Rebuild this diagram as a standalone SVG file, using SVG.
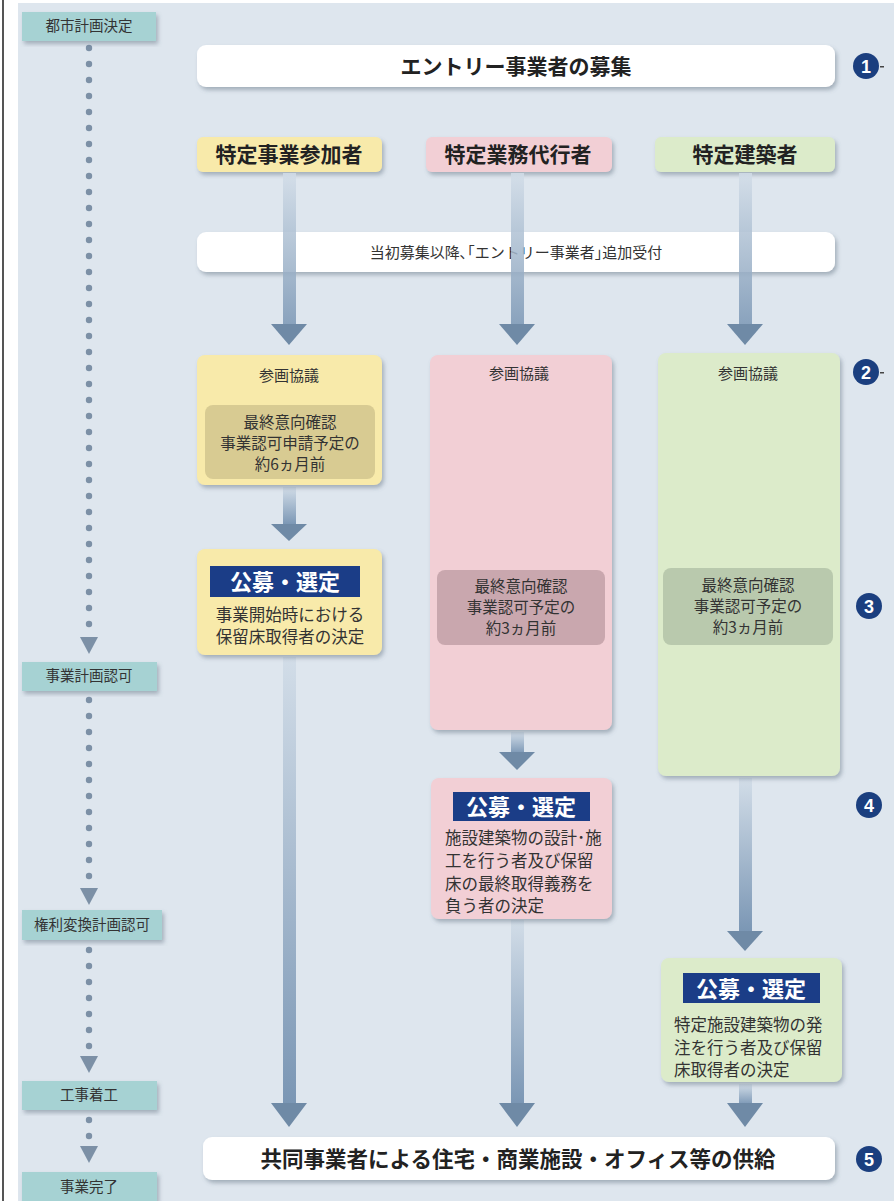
<svg xmlns="http://www.w3.org/2000/svg" width="894" height="1201" viewBox="0 0 894 1201">
<defs>
<style>
.t{font-family:"Noto Sans CJK JP","Noto Sans",sans-serif;fill:#333;text-anchor:middle}
.b{font-weight:bold;fill:#222}
.w{font-weight:bold;fill:#fff}
.s{font-size:14.5px}
.k{font-size:15px}
.n{font-size:15.5px}
.m{font-size:16.5px}
.l{font-size:21px}
.g{font-size:22px}
.lab{fill:#a6d2d3}
.dot{fill:#7c90a6}
.num{fill:#1b3f7f}
.lbl{fill:#1b3d87}
.yel{fill:#f8eaaa}
.pnk{fill:#f2cfd5}
.grn{fill:#dcebca}
.wht{fill:#fff}
</style>
<linearGradient id="sh" x1="0" y1="0" x2="0" y2="1">
<stop offset="0" stop-color="#d2dde8"/>
<stop offset="1" stop-color="#7a96b4"/>
</linearGradient>
<filter id="ds" x="-10%" y="-10%" width="125%" height="130%">
<feDropShadow dx="2" dy="3" stdDeviation="2" flood-color="#5a6a7a" flood-opacity="0.45"/>
</filter>
</defs>
<rect x="0" y="0" width="894" height="1201" fill="#fff"/>
<rect x="18" y="3" width="876" height="1198" fill="#dee6ee"/>
<rect x="2" y="0" width="2" height="1201" fill="#555"/>

<!-- timeline -->
<g id="timeline">
<g id="tl-dots1" class="dot">
<circle cx="89" cy="48" r="3.2"/><circle cx="89" cy="64" r="3.2"/><circle cx="89" cy="80" r="3.2"/><circle cx="89" cy="96" r="3.2"/><circle cx="89" cy="112" r="3.2"/><circle cx="89" cy="128" r="3.2"/><circle cx="89" cy="144" r="3.2"/><circle cx="89" cy="160" r="3.2"/><circle cx="89" cy="176" r="3.2"/><circle cx="89" cy="192" r="3.2"/><circle cx="89" cy="208" r="3.2"/><circle cx="89" cy="224" r="3.2"/><circle cx="89" cy="240" r="3.2"/><circle cx="89" cy="256" r="3.2"/><circle cx="89" cy="272" r="3.2"/><circle cx="89" cy="288" r="3.2"/><circle cx="89" cy="304" r="3.2"/><circle cx="89" cy="320" r="3.2"/><circle cx="89" cy="336" r="3.2"/><circle cx="89" cy="352" r="3.2"/><circle cx="89" cy="368" r="3.2"/><circle cx="89" cy="384" r="3.2"/><circle cx="89" cy="400" r="3.2"/><circle cx="89" cy="416" r="3.2"/><circle cx="89" cy="432" r="3.2"/><circle cx="89" cy="448" r="3.2"/><circle cx="89" cy="464" r="3.2"/><circle cx="89" cy="480" r="3.2"/><circle cx="89" cy="496" r="3.2"/><circle cx="89" cy="512" r="3.2"/><circle cx="89" cy="528" r="3.2"/><circle cx="89" cy="544" r="3.2"/><circle cx="89" cy="560" r="3.2"/><circle cx="89" cy="576" r="3.2"/><circle cx="89" cy="592" r="3.2"/><circle cx="89" cy="608" r="3.2"/><circle cx="89" cy="624" r="3.2"/>
<path d="M80,637 L98,637 L89,654 z"/>
</g>
<g id="tl-dots2" class="dot">
<circle cx="89" cy="700" r="3.2"/><circle cx="89" cy="716" r="3.2"/><circle cx="89" cy="732" r="3.2"/><circle cx="89" cy="748" r="3.2"/><circle cx="89" cy="764" r="3.2"/><circle cx="89" cy="780" r="3.2"/><circle cx="89" cy="796" r="3.2"/><circle cx="89" cy="812" r="3.2"/><circle cx="89" cy="828" r="3.2"/><circle cx="89" cy="844" r="3.2"/><circle cx="89" cy="860" r="3.2"/><circle cx="89" cy="876" r="3.2"/>
<path d="M80,888 L98,888 L89,905 z"/>
</g>
<g id="tl-dots3" class="dot">
<circle cx="89" cy="950" r="3.2"/><circle cx="89" cy="966" r="3.2"/><circle cx="89" cy="982" r="3.2"/><circle cx="89" cy="998" r="3.2"/><circle cx="89" cy="1014" r="3.2"/><circle cx="89" cy="1030" r="3.2"/><circle cx="89" cy="1046" r="3.2"/>
<path d="M80,1056 L98,1056 L89,1073 z"/>
</g>
<g id="tl-dots4" class="dot">
<circle cx="89" cy="1120" r="3.2"/><circle cx="89" cy="1136" r="3.2"/>
<path d="M80,1146 L98,1146 L89,1163 z"/>
</g>
<g id="tl-1"><rect class="lab" x="22" y="12" width="134" height="29" filter="url(#ds)"/><text class="t s" x="89" y="31">都市計画決定</text></g>
<g id="tl-2"><rect class="lab" x="22" y="662" width="135" height="29" filter="url(#ds)"/><text class="t s" x="89" y="681">事業計画認可</text></g>
<g id="tl-3"><rect class="lab" x="22" y="910" width="140" height="30" filter="url(#ds)"/><text class="t s" x="92" y="930">権利変換計画認可</text></g>
<g id="tl-4"><rect class="lab" x="22" y="1081" width="135" height="29" filter="url(#ds)"/><text class="t s" x="89" y="1100">工事着工</text></g>
<g id="tl-5"><rect class="lab" x="22" y="1172" width="135" height="29" filter="url(#ds)"/><text class="t s" x="89" y="1192">事業完了</text></g>
</g>

<!-- top bars -->
<g id="entry"><rect class="wht" x="197" y="45" width="638" height="42" rx="9" filter="url(#ds)"/><text class="t b l" x="516" y="74">エントリー事業者の募集</text></g>
<g id="h1"><rect class="yel" x="197" y="137" width="185" height="35" rx="6" filter="url(#ds)"/><text class="t b l" x="289" y="162">特定事業参加者</text></g>
<g id="h2"><rect class="pnk" x="426" y="137" width="186" height="35" rx="6" filter="url(#ds)"/><text class="t b l" x="518" y="162">特定業務代行者</text></g>
<g id="h3"><rect class="grn" x="655" y="137" width="180" height="35" rx="6" filter="url(#ds)"/><text class="t b l" x="745" y="162">特定建築者</text></g>
<g id="extra"><rect class="wht" x="197" y="232" width="638" height="40" rx="9" filter="url(#ds)"/><text class="t k" x="516" y="258">当初募集以降､｢エントリー事業者｣追加受付</text></g>

<!-- connectors -->
<g id="connectors">
<rect x="283" y="173" width="13" height="153" fill="url(#sh)" opacity="0.85"/>
<path d="M271,324 L307,324 L289,345 z" fill="#6f8aa6"/>
<rect x="511" y="173" width="13" height="153" fill="url(#sh)" opacity="0.85"/>
<path d="M499,324 L535,324 L517,345 z" fill="#6f8aa6"/>
<rect x="739" y="173" width="13" height="153" fill="url(#sh)" opacity="0.85"/>
<path d="M727,324 L763,324 L745,345 z" fill="#6f8aa6"/>

<rect x="283" y="487" width="13" height="38" fill="url(#sh)"/>
<path d="M271,524 L307,524 L289,541 z" fill="#6f8aa6"/>
<rect x="283" y="657" width="13" height="448" fill="url(#sh)"/>
<path d="M271,1103 L307,1103 L289,1127 z" fill="#6f8aa6"/>

<rect x="511" y="732" width="13" height="22" fill="url(#sh)"/>
<path d="M499,752 L535,752 L517,770 z" fill="#6f8aa6"/>
<rect x="511" y="920" width="13" height="185" fill="url(#sh)"/>
<path d="M499,1103 L535,1103 L517,1127 z" fill="#6f8aa6"/>

<rect x="739" y="778" width="13" height="155" fill="url(#sh)"/>
<path d="M727,931 L763,931 L745,951 z" fill="#6f8aa6"/>
<rect x="739" y="1084" width="13" height="21" fill="url(#sh)"/>
<path d="M727,1103 L763,1103 L745,1127 z" fill="#6f8aa6"/>
</g>

<!-- column 1 -->
<g id="c1-kyogi"><rect class="yel" x="197" y="355" width="185" height="130" rx="8" filter="url(#ds)"/>
<text class="t k" x="289" y="381">参画協議</text>
<rect x="205" y="405" width="170" height="74" rx="8" fill="#d8cb92"/>
<text class="t n" x="290" y="428">最終意向確認</text><text class="t n" x="290" y="449">事業認可申請予定の</text><text class="t n" x="290" y="470">約6ヵ月前</text></g>
<g id="c1-sentei"><rect class="yel" x="197" y="549" width="185" height="106" rx="8" filter="url(#ds)"/>
<rect class="lbl" x="210" y="566" width="150" height="31"/><text class="t w g" x="285" y="590">公募・選定</text>
<text class="t m" x="290" y="621">事業開始時における</text><text class="t m" x="290" y="643">保留床取得者の決定</text></g>

<!-- column 2 -->
<g id="c2-kyogi"><rect class="pnk" x="430" y="355" width="182" height="375" rx="8" filter="url(#ds)"/>
<text class="t k" x="519" y="379">参画協議</text>
<rect x="437" y="570" width="168" height="75" rx="8" fill="#c9a7ae"/>
<text class="t n" x="521" y="592">最終意向確認</text><text class="t n" x="521" y="613">事業認可予定の</text><text class="t n" x="521" y="634">約3ヵ月前</text></g>
<g id="c2-sentei"><rect class="pnk" x="431" y="778" width="181" height="141" rx="8" filter="url(#ds)"/>
<rect class="lbl" x="453" y="792" width="137" height="29"/><text class="t w g" x="521" y="815">公募・選定</text>
<g class="t m" style="text-anchor:start"><text x="445" y="844">施設建築物の設計･施</text><text x="445" y="867">工を行う者及び保留</text><text x="445" y="890">床の最終取得義務を</text><text x="445" y="912">負う者の決定</text></g></g>

<!-- column 3 -->
<g id="c3-kyogi"><rect class="grn" x="658" y="353" width="182" height="423" rx="8" filter="url(#ds)"/>
<text class="t k" x="748" y="379">参画協議</text>
<rect x="663" y="568" width="170" height="77" rx="8" fill="#b9c9ad"/>
<text class="t n" x="748" y="591">最終意向確認</text><text class="t n" x="748" y="612">事業認可予定の</text><text class="t n" x="748" y="633">約3ヵ月前</text></g>
<g id="c3-sentei"><rect class="grn" x="661" y="958" width="181" height="124" rx="8" filter="url(#ds)"/>
<rect class="lbl" x="683" y="973" width="137" height="30"/><text class="t w g" x="751" y="997">公募・選定</text>
<g class="t m" style="text-anchor:start"><text x="674" y="1031">特定施設建築物の発</text><text x="674" y="1054">注を行う者及び保留</text><text x="674" y="1076">床取得者の決定</text></g></g>

<!-- bottom -->
<g id="supply"><rect class="wht" x="203" y="1137" width="632" height="43" rx="9" filter="url(#ds)"/><text class="t b" font-size="21.5" x="518" y="1167">共同事業者による住宅・商業施設・オフィス等の供給</text></g>

<!-- step numbers -->
<g id="steps" font-family="Liberation Sans,Arial,sans-serif" font-weight="bold" font-size="18" fill="#fff" text-anchor="middle">
<g id="n1"><circle class="num" cx="866" cy="66" r="13"/><text x="866" y="72.5">1</text><rect x="880" y="66" width="4" height="1.5" fill="#444"/></g>
<g id="n2"><circle class="num" cx="866" cy="372" r="13"/><text x="866" y="378.5">2</text><rect x="880" y="372" width="4" height="1.5" fill="#444"/></g>
<g id="n3"><circle class="num" cx="869" cy="606" r="13"/><text x="869" y="612.5">3</text></g>
<g id="n4"><circle class="num" cx="869" cy="805" r="13"/><text x="869" y="811.5">4</text></g>
<g id="n5"><circle class="num" cx="869" cy="1159" r="13"/><text x="869" y="1165.5">5</text></g>
</g>
</svg>
